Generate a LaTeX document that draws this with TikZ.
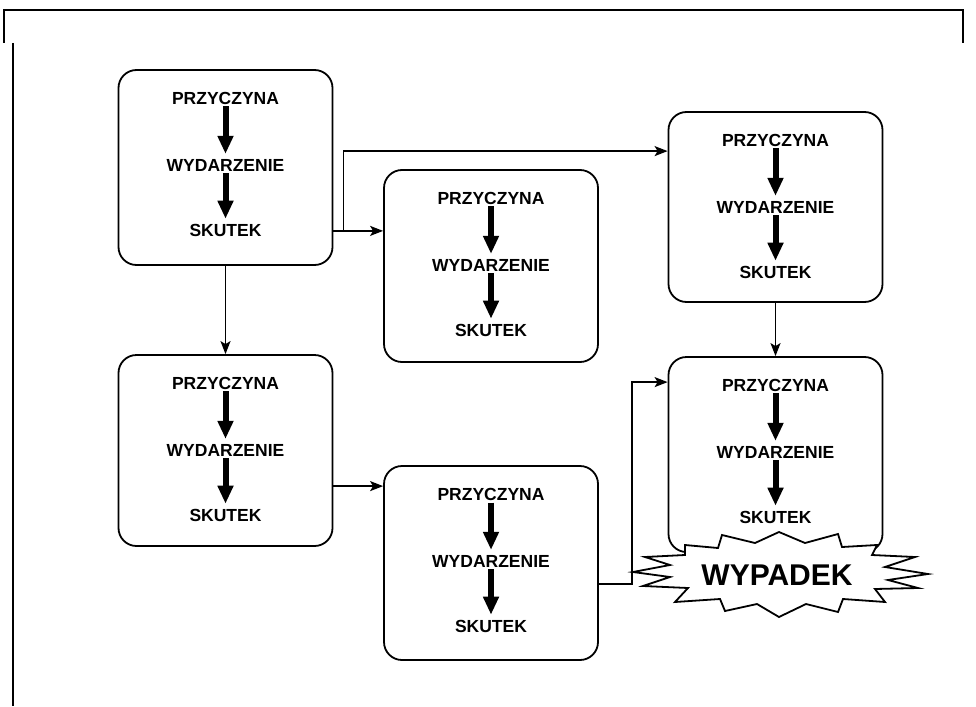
\documentclass[tikz,border=0pt]{standalone}
\usepackage{fontspec}
\setmainfont{Liberation Sans}
\usetikzlibrary{arrows.meta,calc}

\tikzset{
  cebox/.style={draw, line width=1.8pt, rounded corners=18pt, fill=white,
    minimum width=214pt, minimum height=#1, inner sep=0pt},
  lbl/.style={font=\fontsize{17.5}{20}\selectfont\bfseries, inner sep=0pt},
  bigarrow/.style={line width=6pt, -{Triangle[length=18pt,width=15pt]},
    shorten <=2pt, shorten >=5pt},
  conn/.style={line width=1.6pt, -{Stealth[length=13pt,width=10pt,inset=3pt]}},
  frameline/.style={line width=1.6pt},
  burst/.style={draw, line width=1.8pt, fill=white, line join=miter},
  burstlbl/.style={font=\fontsize{30}{34}\selectfont\bfseries, inner sep=0pt}
}

% A cause -> event -> effect box: name, centre x, top y, height
\newcommand\causebox[4]{%
  \node[cebox=#4] (#1) at (#2,#3+#4/2) {};
  \node[lbl] (#1-p) at ([yshift=-29pt]#1.north) {PRZYCZYNA};
  \node[lbl] (#1-w) at ([yshift=-96pt]#1.north) {WYDARZENIE};
  \node[lbl] (#1-s) at ([yshift=-161pt]#1.north) {SKUTEK};
  \draw[bigarrow] (#1-p.south) -- (#1-w.north);
  \draw[bigarrow] (#1-w.south) -- (#1-s.north);
}

\begin{document}
\begin{tikzpicture}[x=1pt,y=-1pt]
  \useasboundingbox (0,0) rectangle (976,706);

  % page frame fragments
  \coordinate (f1) at (4,43);
  \coordinate (f2) at (4,10);
  \coordinate (f3) at (963,10);
  \coordinate (f4) at (963,43);
  \draw[frameline] (f1) -- (f2) -- (f3) -- (f4);
  \coordinate (g1) at (13,43);
  \coordinate (g2) at (13,706);
  \draw[frameline] (g1) -- (g2);

  % boxes
  \causebox{A}{225.5}{70}{195}
  \causebox{B}{491}{170}{192}
  \causebox{C}{775.5}{112}{190}
  \causebox{D}{225.5}{355}{191}
  \causebox{E}{491}{466}{194}
  \causebox{F}{775.5}{357}{195}

  % connectors
  \draw[conn] (A.south) -- (D.north);
  \coordinate (aout) at ([yshift=35pt]A.south east);
  \coordinate (split) at ([xshift=10pt]aout);
  \draw[conn] (aout) -- (B.west |- aout);
  \coordinate (cin) at ([yshift=-40pt]C.north west);
  \draw[conn] (split) |- (cin);
  \draw[conn] (C.south) -- (F.north);
  \coordinate (dout) at ([yshift=-132pt]D.north east);
  \draw[conn] (dout) -- (E.west |- dout);
  \coordinate (eout) at ([yshift=-119pt]E.north east);
  \coordinate (fin) at ([yshift=-26pt]F.north west);
  \coordinate (bend) at (632,0);
  \draw[conn] (eout) -- (bend |- eout) -- (bend |- fin) -- (fin);

  % accident burst
  \draw[burst] (685,545) -- (718,548) -- (722,535) -- (755,543) -- (779,532)
    -- (805,543) -- (838,534) -- (842,547) -- (877,545)
    -- (872,555) -- (915,557) -- (885,567) -- (928,574) -- (888,580)
    -- (918,588) -- (875,589)
    -- (885,602) -- (843,599) -- (838,612) -- (806,604) -- (779,617)
    -- (757,604) -- (725,611) -- (720,599) -- (675,602)
    -- (688,588) -- (643,586) -- (670,577) -- (633,572) -- (670,565)
    -- (645,557) -- (685,555) -- cycle;
  \node[burstlbl] (acc) at (777,575) {WYPADEK};
\end{tikzpicture}
\end{document}
